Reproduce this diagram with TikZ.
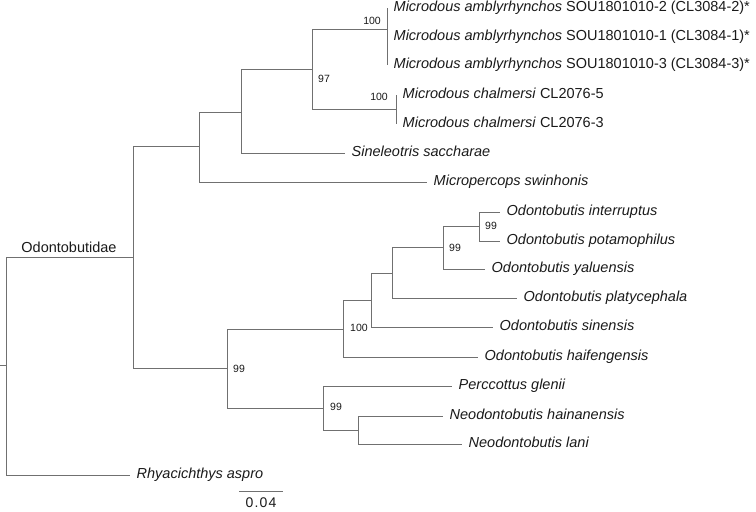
\documentclass[tikz,border=0pt]{standalone}
\usepackage{fontspec}
\setmainfont{Liberation Sans}
\definecolor{linegrey}{HTML}{707070}
\definecolor{textc}{HTML}{1A1A1A}
\begin{document}
\begin{tikzpicture}[x=1pt,y=-1pt,
  br/.style={draw=linegrey, line width=0.9pt},
  leaf/.style={anchor=west, inner xsep=6.5pt, inner ysep=0pt, font=\fontsize{14.5}{16}\selectfont, text=textc, text height=10pt, text depth=3pt},
  bs/.style={font=\fontsize{10.5}{12}\selectfont, inner sep=0pt, text=textc}]
\useasboundingbox (0,0) rectangle (756,512);
% internal nodes
\coordinate (root) at (6,365);
\coordinate (rstub) at (0,365);
\coordinate (odo) at (133,257);
\coordinate (nm) at (199,146);
\coordinate (ns) at (241,112);
\coordinate (n97) at (312,69);
\coordinate (namb) at (387,29);
\coordinate (nchal) at (396,109);
\coordinate (nd) at (227,368);
\coordinate (n100) at (343,329);
\coordinate (nsin) at (371,300);
\coordinate (nplat) at (392,273);
\coordinate (nb) at (443,247);
\coordinate (na) at (479,226);
\coordinate (nc) at (323,408);
\coordinate (nper) at (358,430);
% leaves
\node[leaf] (amb2) at (387,8) {\textit{Microdous amblyrhynchos} SOU1801010-2 (CL3084-2)*};
\node[leaf] (amb1) at (387,37) {\textit{Microdous amblyrhynchos} SOU1801010-1 (CL3084-1)*};
\node[leaf] (amb3) at (387,65) {\textit{Microdous amblyrhynchos} SOU1801010-3 (CL3084-3)*};
\node[leaf] (chal5) at (396,95) {\textit{Microdous chalmersi} CL2076-5};
\node[leaf] (chal3) at (396,124) {\textit{Microdous chalmersi} CL2076-3};
\node[leaf] (sine) at (345,153) {\textit{Sineleotris saccharae}};
\node[leaf] (micro) at (427,182) {\textit{Micropercops swinhonis}};
\node[leaf] (inter) at (500,212) {\textit{Odontobutis interruptus}};
\node[leaf] (pota) at (500,241) {\textit{Odontobutis potamophilus}};
\node[leaf] (yalu) at (485,269) {\textit{Odontobutis yaluensis}};
\node[leaf] (platy) at (517,298) {\textit{Odontobutis platycephala}};
\node[leaf] (sinen) at (493,327) {\textit{Odontobutis sinensis}};
\node[leaf] (haif) at (478,357) {\textit{Odontobutis haifengensis}};
\node[leaf] (perc) at (452,386) {\textit{Perccottus glenii}};
\node[leaf] (hain) at (443,416) {\textit{Neodontobutis hainanensis}};
\node[leaf] (lani) at (462,444) {\textit{Neodontobutis lani}};
\node[leaf] (rhy) at (130,475) {\textit{Rhyacichthys aspro}};
% branches
\draw[br] (rstub) -- (root);
\draw[br] (root) |- (odo);
\draw[br] (root) |- (rhy.west);
\draw[br] (odo) |- (nm);
\draw[br] (odo) |- (nd);
\draw[br] (nm) |- (ns);
\draw[br] (nm) |- (micro.west);
\draw[br] (ns) |- (n97);
\draw[br] (ns) |- (sine.west);
\draw[br] (n97) |- (namb);
\draw[br] (n97) |- (nchal);
\draw[br] (namb) |- (amb2.west);
\draw[br] (namb) |- (amb1.west);
\draw[br] (namb) |- (amb3.west);
\draw[br] (nchal) |- (chal5.west);
\draw[br] (nchal) |- (chal3.west);
\draw[br] (nd) |- (n100);
\draw[br] (nd) |- (nc);
\draw[br] (n100) |- (nsin);
\draw[br] (n100) |- (haif.west);
\draw[br] (nsin) |- (nplat);
\draw[br] (nsin) |- (sinen.west);
\draw[br] (nplat) |- (nb);
\draw[br] (nplat) |- (platy.west);
\draw[br] (nb) |- (na);
\draw[br] (nb) |- (yalu.west);
\draw[br] (na) |- (inter.west);
\draw[br] (na) |- (pota.west);
\draw[br] (nc) |- (perc.west);
\draw[br] (nc) |- (nper);
\draw[br] (nper) |- (hain.west);
\draw[br] (nper) |- (lani.west);
% support values
\node[bs, anchor=east] (b1) at (381,21) {100};
\node[bs, anchor=west] (b2) at (318,79) {97};
\node[bs, anchor=east] (b3) at (388,97) {100};
\node[bs, anchor=west] (b4) at (350,328) {100};
\node[bs, anchor=west] (b5) at (233,369) {99};
\node[bs, anchor=west] (b6) at (449,248) {99};
\node[bs, anchor=west] (b7) at (485,226) {99};
\node[bs, anchor=west] (b8) at (330,407) {99};
% clade label
\node[font=\fontsize{14.5}{16}\selectfont, text=textc, inner sep=0pt] (odolab) at (69,247) {Odontobutidae};
% scale bar
\coordinate (s1) at (239,491);
\coordinate (s2) at (283,491);
\draw[br] (s1) -- (s2);
\node[font=\fontsize{14}{16}\selectfont, text=textc, inner sep=0pt] (scl) at (261,503) {0\kern1.2pt.\kern1.2pt0\kern1.2pt4};
\end{tikzpicture}
\end{document}
